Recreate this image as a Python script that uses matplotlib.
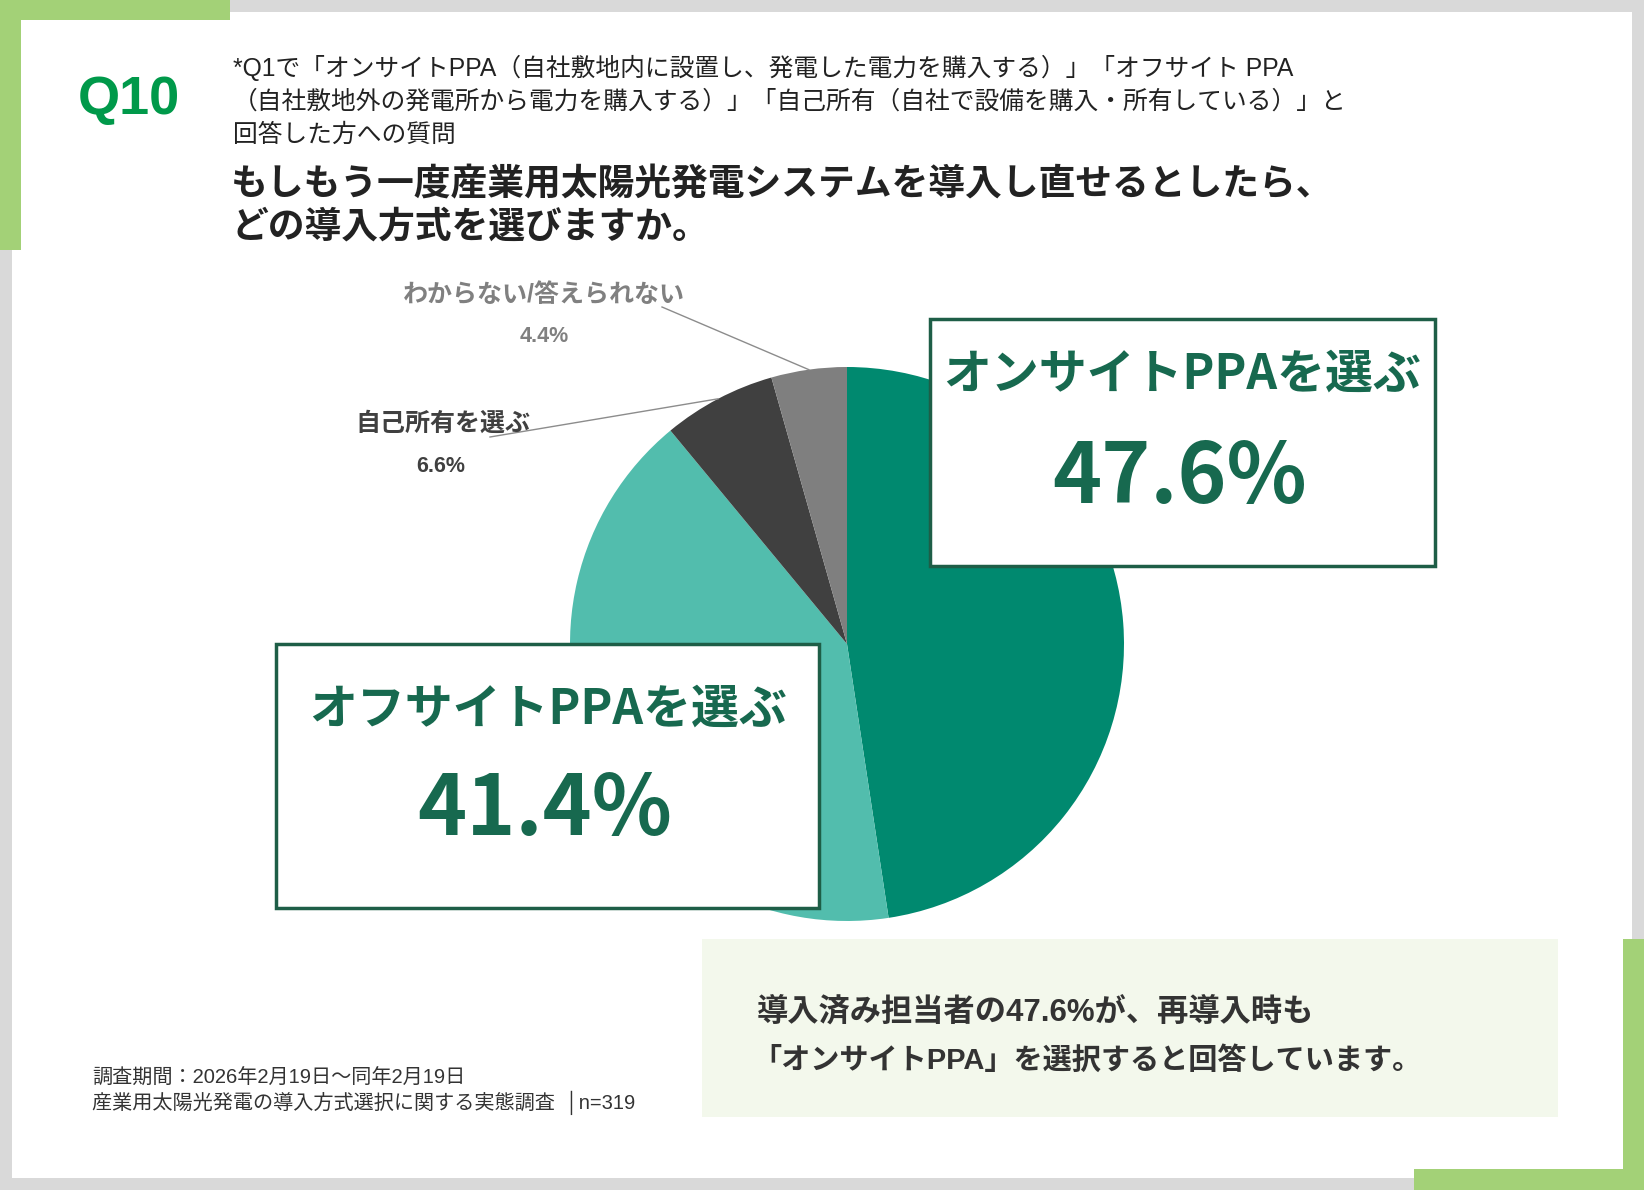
import numpy as np
import matplotlib
matplotlib.use('Agg')
import matplotlib.pyplot as plt
from matplotlib.patches import Rectangle

plt.rcParams['font.family'] = ['Liberation Sans', 'Noto Sans CJK JP', 'DejaVu Sans']

# data
categories = ['オンサイトPPAを選ぶ', 'オフサイトPPAを選ぶ', '自己所有を選ぶ', 'わからない/答えられない']
values = [47.6, 41.4, 6.6, 4.4]
colors = ['#00896f', '#52bdad', '#404040', '#7f7f7f']

W, H = 1644, 1190
fig = plt.figure(figsize=(W / 100, H / 100), dpi=100, facecolor='#d9d9d9')
ax = fig.add_axes([0, 0, 1, 1])

def Y(y):
    # pixel row (from top) -> data y
    return H - y

def rect(x0, y0, x1, y1, **kw):
    ax.add_patch(Rectangle((x0, Y(y1)), x1 - x0, y1 - y0, **kw))

# frame + accents
rect(12, 12, 1632, 1178, facecolor='white', edgecolor='none', zorder=0)
green = '#a3d177'
rect(0, 0, 230, 20, facecolor=green, edgecolor='none', zorder=0.5)
rect(0, 0, 21, 250, facecolor=green, edgecolor='none', zorder=0.5)
rect(1623, 939, 1644, 1190, facecolor=green, edgecolor='none', zorder=0.5)
rect(1414, 1169, 1644, 1190, facecolor=green, edgecolor='none', zorder=0.5)

# header
ax.text(129, Y(100), 'Q10', color='#00994a', fontsize=39, fontweight='bold',
        ha='center', va='center', family=['Liberation Sans'])
sub = ['*Q1で「オンサイトPPA（自社敷地内に設置し、発電した電力を購入する）」「オフサイト PPA',
       '（自社敷地外の発電所から電力を購入する）」「自己所有（自社で設備を購入・所有している）」と',
       '回答した方への質問']
for i, s in enumerate(sub):
    ax.text(233, Y(68 + 33.5 * i), s, fontsize=17.8, color='#222222', ha='left', va='center')
title = ['もしもう一度産業用太陽光発電システムを導入し直せるとしたら、',
         'どの導入方式を選びますか。']
for i, s in enumerate(title):
    ax.text(231, Y(186 + 42 * i), s, fontsize=26.5, fontweight='bold', color='#222222',
            ha='left', va='center')

# pie
cx, cy, r = 847, 644, 277
wedges, _ = ax.pie(values, colors=colors, startangle=90, counterclock=False,
                   center=(cx, Y(cy)), radius=r, wedgeprops=dict(linewidth=0))
for w in wedges:
    w.set_zorder(2)

def edge_point(w):
    a = np.deg2rad((w.theta1 + w.theta2) / 2)
    return cx + r * np.cos(a), Y(cy) + r * np.sin(a)

# small slice labels with leader lines
ex, ey = edge_point(wedges[3])
ax.plot([662, ex], [Y(307), ey], color='#8c8c8c', lw=1, zorder=3)
ax.text(544, Y(295), categories[3], fontsize=18, fontweight='bold', color='#808080',
        ha='center', va='center')
ax.text(544, Y(337), f'{values[3]}%', fontsize=15.5, fontweight='bold', color='#808080',
        ha='center', va='center')

ex, ey = edge_point(wedges[2])
ax.plot([490, ex], [Y(437), ey], color='#8c8c8c', lw=1, zorder=3)
ax.text(443, Y(424), categories[2], fontsize=18, fontweight='bold', color='#404040',
        ha='center', va='center')
ax.text(441, Y(466), f'{values[2]}%', fontsize=15.5, fontweight='bold', color='#404040',
        ha='center', va='center')

# big callout boxes
box_ec = '#1e5e47'
txt_c = '#17694f'
rect(930, 319, 1435, 566, facecolor='white', edgecolor=box_ec, lw=2.5, zorder=4)
ax.text(1182, Y(374), categories[0], fontsize=34.5, fontweight='bold', color=txt_c,
        ha='center', va='center', family=['Noto Sans CJK JP'], zorder=5)
ax.text(1180, Y(478), f'{values[0]}%', fontsize=60, fontweight='bold', color=txt_c,
        ha='center', va='center', family=['Noto Sans CJK JP'], zorder=5)

rect(276, 644, 819, 908, facecolor='white', edgecolor=box_ec, lw=2.5, zorder=4)
ax.text(548, Y(709), categories[1], fontsize=34.5, fontweight='bold', color=txt_c,
        ha='center', va='center', family=['Noto Sans CJK JP'], zorder=5)
ax.text(545, Y(810), f'{values[1]}%', fontsize=60, fontweight='bold', color=txt_c,
        ha='center', va='center', family=['Noto Sans CJK JP'], zorder=5)

# summary box
rect(702, 939, 1558, 1117, facecolor='#f3f8ec', edgecolor='none', zorder=1)
ax.text(757, Y(1012), f'導入済み担当者の{values[0]}%が、再導入時も', fontsize=22.5,
        fontweight='bold', color='#333333', ha='left', va='center', zorder=5)
ax.text(752, Y(1060), '「オンサイトPPA」を選択すると回答しています。', fontsize=21,
        fontweight='bold', color='#333333', ha='left', va='center', zorder=5)

# footer
ax.text(92, Y(1078), '調査期間：2026年2月19日～同年2月19日', fontsize=14.5,
        color='#333333', ha='left', va='center')
ax.text(92, Y(1103), '産業用太陽光発電の導入方式選択に関する実態調査  │n=319', fontsize=14.5,
        color='#333333', ha='left', va='center')

ax.set_xlim(0, W)
ax.set_ylim(0, H)
ax.axis('off')
fig.savefig('out.png', dpi=100, facecolor=fig.get_facecolor())
